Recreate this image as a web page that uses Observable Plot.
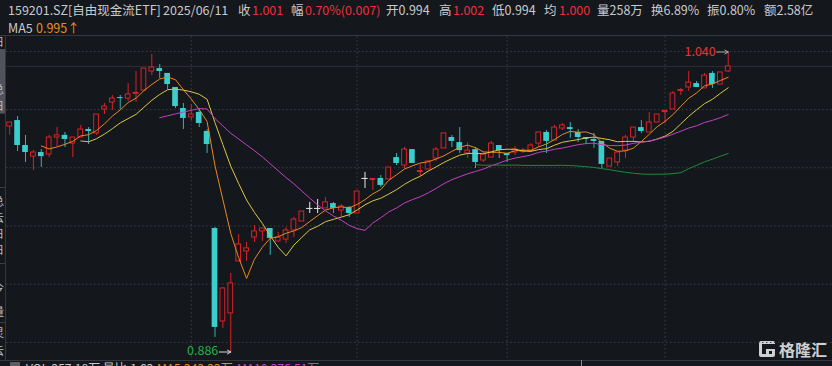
<!DOCTYPE html>
<html><head><meta charset="utf-8">
<script src="https://cdn.jsdelivr.net/npm/d3@7"></script>
<script src="https://cdn.jsdelivr.net/npm/@observablehq/plot@0.6"></script>
<style>
html,body{margin:0;padding:0;background:#14171c;width:832px;height:366px;overflow:hidden;}
#wrap{position:relative;width:832px;height:366px;overflow:hidden;font-family:"Noto Sans CJK SC","Noto Sans",sans-serif;}
#deco{position:absolute;left:0;top:0;}
#chart{position:absolute;left:0;top:36px;}
</style></head>
<body><div id="wrap"><svg id="deco" width="832" height="366"></svg><div id="chart"></div></div>
<script>
// ---- data ----
const opens  = [1.0017,1.0048,0.9920,0.9863,0.9884,0.9874,0.9961,0.9972,0.9930,0.9961,1.0002,0.9982,1.0105,1.0141,1.0166,1.0161,1.0185,1.0202,1.0300,1.0315,1.0290,1.0218,1.0110,1.0064,1.0090,0.9992,0.9494,0.9017,0.9058,0.9325,0.9376,0.9448,0.9479,0.9494,0.9427,0.9437,0.9484,0.9530,0.9597,0.9597,0.9597,0.9622,0.9586,0.9602,0.9571,0.9751,0.9743,0.9751,0.9746,0.9858,0.9817,0.9899,0.9784,0.9797,0.9853,0.9905,0.9961,0.9935,0.9879,0.9899,0.9843,0.9858,0.9920,0.9879,0.9884,0.9887,0.9894,0.9930,0.9987,0.9946,1.0007,1.0012,0.9987,0.9961,0.9951,0.9941,0.9812,0.9833,0.9894,0.9961,1.0012,0.9987,1.0038,1.0092,1.0105,1.0200,1.0218,1.0238,1.0213,1.0290,1.0233,1.0300];
const highs  = [1.0038,1.0069,0.9972,0.9894,0.9899,0.9972,1.0012,0.9987,0.9961,1.0023,1.0012,1.0079,1.0136,1.0177,1.0177,1.0238,1.0300,1.0315,1.0387,1.0336,1.0290,1.0218,1.0136,1.0131,1.0110,1.0002,0.9499,0.9191,0.9263,0.9463,0.9422,0.9510,0.9494,0.9494,0.9474,0.9499,0.9551,0.9581,0.9628,0.9643,0.9653,0.9628,0.9617,0.9607,0.9684,0.9782,0.9748,0.9766,0.9807,0.9879,0.9910,0.9899,0.9823,0.9843,0.9910,0.9982,0.9972,1.0012,0.9935,0.9910,0.9884,0.9941,0.9920,0.9879,0.9915,0.9905,0.9930,0.9987,0.9997,1.0023,1.0033,1.0038,1.0002,0.9961,0.9982,0.9941,0.9853,0.9884,0.9972,1.0012,1.0048,1.0089,1.0079,1.0097,1.0197,1.0213,1.0300,1.0249,1.0290,1.0300,1.0295,1.0400];
const lows   = [0.9972,0.9889,0.9833,0.9792,0.9807,0.9858,0.9915,0.9910,0.9858,0.9961,0.9925,0.9972,1.0079,1.0100,1.0105,1.0146,1.0141,1.0202,1.0279,1.0264,1.0207,1.0110,1.0002,1.0048,1.0012,0.9879,0.8935,0.8981,0.8860,0.9325,0.9325,0.9422,0.9427,0.9356,0.9427,0.9417,0.9448,0.9530,0.9571,0.9571,0.9597,0.9571,0.9551,0.9551,0.9571,0.9699,0.9689,0.9704,0.9746,0.9817,0.9802,0.9828,0.9761,0.9797,0.9838,0.9905,0.9910,0.9879,0.9853,0.9802,0.9833,0.9858,0.9853,0.9833,0.9868,0.9879,0.9884,0.9910,0.9879,0.9946,0.9997,0.9956,0.9935,0.9925,0.9905,0.9802,0.9812,0.9812,0.9853,0.9935,0.9982,0.9987,1.0038,1.0033,1.0105,1.0177,1.0197,1.0218,1.0213,1.0213,1.0233,1.0295];
const closes = [1.0038,0.9920,0.9884,0.9884,0.9863,0.9961,0.9972,0.9951,0.9961,1.0002,0.9992,1.0079,1.0120,1.0161,1.0161,1.0182,1.0190,1.0315,1.0320,1.0300,1.0233,1.0120,1.0059,1.0079,1.0033,0.9925,0.8986,0.9186,0.9212,0.9412,0.9392,0.9479,0.9494,0.9443,0.9448,0.9484,0.9540,0.9581,0.9597,0.9597,0.9628,0.9597,0.9607,0.9571,0.9684,0.9751,0.9748,0.9715,0.9807,0.9828,0.9899,0.9828,0.9789,0.9838,0.9899,0.9982,0.9941,0.9894,0.9894,0.9833,0.9874,0.9930,0.9894,0.9868,0.9899,0.9892,0.9920,0.9987,0.9941,1.0012,1.0023,1.0002,0.9961,0.9951,0.9941,0.9823,0.9853,0.9884,0.9961,1.0012,0.9992,1.0038,1.0079,1.0097,1.0187,1.0205,1.0243,1.0218,1.0279,1.0233,1.0295,1.0326];
const maPeriods = [5, 10, 20, 60];
const maColors  = ["#ee861c", "#d9c83c", "#c242c2", "#1c8a3e"];
const gridPrices = [1.0403, 1.0104, 0.9806, 0.9507, 0.9208, 0.8909];
const monthStarts = [23, 44, 63, 83];

const headerItems = [
  ["159201.SZ[自由现金流ETF]", 8, "g"], ["2025/06/11", 163, "g"],
  ["收", 238, "g"], ["1.001", 252, "r"], ["幅", 291, "g"], ["0.70%(0.007)", 305, "r"],
  ["开0.994", 386, "g"], ["高", 439, "g"], ["1.002", 453, "r"], ["低0.994", 492, "g"],
  ["均", 544, "g"], ["1.000", 559, "r"], ["量258万", 597, "g"], ["换6.89%", 651, "g"],
  ["振0.80%", 707, "g"], ["额2.58亿", 764, "g"]
];
const maLabel = ["MA5", "0.995↑"];

// ---- colours ----
const BG = "#14171c", RED = "#d92228", TEAL = "#3ccdcd", TEALW = "#33b3b3", GRID = "#3d4048", TXT = "#c9cacd", TRED = "#ef303a";

const data = closes.map((c, i) => ({i, open: opens[i], high: highs[i], low: lows[i], close: c}));
const up = data.filter(d => d.close > d.open);
const down = data.filter(d => d.close < d.open);
const flat = data.filter(d => d.close === d.open);
const colorOf = d => d.close > d.open ? RED : d.close < d.open ? TEALW : "#e6e6e6";
const ma = k => data.slice(k - 1).map(d => ({i: d.i, v: d3.mean(closes.slice(d.i - k + 1, d.i + 1))}));

const maxI = d3.maxIndex(highs), minI = d3.minIndex(lows);
const lastClose = closes[closes.length - 1];

const chart = Plot.plot({
  width: 832, height: 324,
  marginLeft: 6, marginRight: 0, marginTop: 0, marginBottom: 0,
  style: {background: "transparent", fontFamily: "'Noto Sans CJK SC','Noto Sans',sans-serif"},
  x: {domain: [0, closes.length - 1], range: [9.2, 727.7], axis: null},
  y: {domain: [0.886, 1.040], range: [315.5, 15.5], axis: null},
  marks: [
    Plot.ruleY(gridPrices, {stroke: GRID, strokeDasharray: "1.5,2.5"}),
    Plot.ruleX(monthStarts, {stroke: GRID, strokeDasharray: "1.5,2.5"}),
    Plot.ruleY([lastClose], {stroke: "#2c2f36"}),
    Plot.ruleX(data, {x: "i", y1: "low", y2: "high", stroke: colorOf}),
    Plot.rect(up, {x1: d => d.i - 0.3, x2: d => d.i + 0.3, y1: "open", y2: "close", fill: BG, stroke: RED, strokeWidth: 1}),
    Plot.rect(down, {x1: d => d.i - 0.36, x2: d => d.i + 0.36, y1: "open", y2: "close", fill: TEAL}),
    Plot.ruleY(flat, {y: "close", x1: d => d.i - 0.4, x2: d => d.i + 0.4, stroke: "#e6e6e6"}),
    ...maPeriods.map((k, j) => Plot.line(ma(k), {x: "i", y: "v", stroke: maColors[j], strokeWidth: 1})),
    Plot.arrow([maxI], {x1: d => d - 1.45, x2: d => d, y1: highs[maxI], y2: highs[maxI], stroke: "#a8aab0", strokeWidth: 1, headLength: 6}),
    Plot.text([maxI], {x: d => d, y: highs[maxI], text: d => highs[d].toFixed(3), dx: -12.5, textAnchor: "end", fill: TRED, fontSize: 12.5}),
    Plot.arrow([minI], {x1: d => d - 1.45, x2: d => d, y1: lows[minI], y2: lows[minI], stroke: "#d8d8d8", strokeWidth: 1, headLength: 6}),
    Plot.text([minI], {x: d => d, y: lows[minI], text: d => lows[d].toFixed(3), dx: -12.5, dy: -1, textAnchor: "end", fill: "#22b24a", fontSize: 12.5})
  ]
});
document.getElementById("chart").appendChild(chart);

// ---- decorations: header, side strip, footer, watermark ----
const svg = d3.select("#deco");
const hdr = svg.append("g").attr("font-size", 12.5).attr("font-family", "'Noto Sans CJK SC','Noto Sans',sans-serif");
headerItems.forEach(([t, x, c]) => hdr.append("text").attr("x", x).attr("y", 14.5).attr("fill", c === "r" ? TRED : TXT).text(t));
hdr.append("text").attr("x", 8).attr("y", 32.5).attr("fill", TXT).text(maLabel[0]);
hdr.append("text").attr("x", 36).attr("y", 32.5).attr("fill", "#eb8d1f").text(maLabel[1]);
svg.append("line").attr("x1", 0).attr("x2", 832).attr("y1", 35.5).attr("y2", 35.5).attr("stroke", "#34373e");
svg.append("line").attr("x1", 0).attr("x2", 832).attr("y1", 360.5).attr("y2", 360.5).attr("stroke", "#34373e");
svg.append("line").attr("x1", 5.5).attr("x2", 5.5).attr("y1", 36).attr("y2", 360).attr("stroke", "#34373e");
svg.append("line").attr("x1", 581.5).attr("x2", 581.5).attr("y1", 360).attr("y2", 366).attr("stroke", "#8a8c92");
// left strip
svg.append("rect").attr("x", 0).attr("y", 49).attr("width", 5).attr("height", 65).attr("fill", "#50535b");
[113, 187, 263, 322].forEach(y => svg.append("line").attr("x1", 0).attr("x2", 5).attr("y1", y + 0.5).attr("y2", y + 0.5).attr("stroke", "#3a3d44"));
const side = svg.append("g").attr("font-size", 11).attr("fill", "#bfc0c4").attr("font-family", "'Noto Sans CJK SC',sans-serif");
[["日",46],["总",94],["日",110],["总",206],["云",222],["日",238],["日",254],["今",292],["量",316],["灵",337],["云",355]].forEach(([t, y]) => side.append("text").attr("x", -7).attr("y", y).text(t));
// footer (cut off at the bottom edge)
const foot = svg.append("g").attr("font-size", 12).attr("font-family", "'Noto Sans CJK SC',sans-serif");
foot.append("rect").attr("x", 10).attr("y", 362).attr("width", 10).attr("height", 8).attr("fill", "#5a5d64");
foot.append("text").attr("x", 26).attr("y", 373).attr("fill", TXT).text("VOL:257.18万  量比:1.02");
foot.append("text").attr("x", 157).attr("y", 373).attr("fill", "#eb8d1f").text("MA5:243.22万");
foot.append("text").attr("x", 237).attr("y", 373).attr("fill", "#c442c4").text("MA10:276.51万");
// watermark
const wm = svg.append("g");
wm.append("rect").attr("x", 759).attr("y", 341).attr("width", 16).attr("height", 16).attr("rx", 2).attr("fill", "#cfd0d2");
wm.append("rect").attr("x", 762).attr("y", 344).attr("width", 13).attr("height", 5).attr("fill", BG);
wm.append("rect").attr("x", 762).attr("y", 349).attr("width", 4).attr("height", 5).attr("fill", BG);
wm.append("rect").attr("x", 769).attr("y", 351).attr("width", 3).attr("height", 3).attr("fill", BG);
wm.append("text").attr("x", 779).attr("y", 356).attr("font-size", 16).attr("font-weight", "bold").attr("fill", "#cfd0d2").attr("font-family", "'Noto Sans CJK SC',sans-serif").text("格隆汇");
</script></body></html>
